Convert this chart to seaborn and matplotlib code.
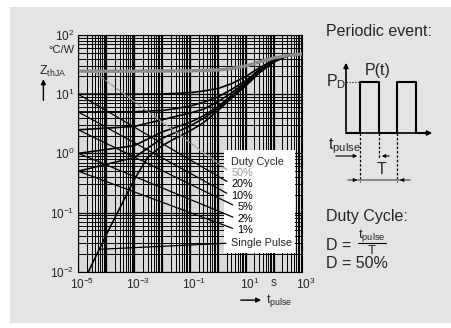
import numpy as np
import pandas as pd
import matplotlib
matplotlib.use('Agg')
import matplotlib.pyplot as plt
import matplotlib.transforms as mtransforms
import seaborn as sns
from matplotlib.patches import Rectangle
from matplotlib.ticker import LogLocator, FuncFormatter

sns.set_style("white")
plt.rcParams['font.family'] = ['Liberation Sans', 'DejaVu Sans']
plt.rcParams['mathtext.default'] = 'regular'

# Thermal impedance curves (t in s, Z in degC/W)
t_cycle = [1e-5, 1e-3, 1e-2, 3e-2, 1e-1, 3e-1, 1, 3, 10, 30, 100, 300, 1000]
z_20 = [10, 10, 10.1, 10.3, 10.6, 11.3, 12.5, 15, 20, 28, 38, 45, 48]
z_10 = [5, 5.05, 5.3, 5.7, 6.3, 7.3, 9, 12, 17, 26, 37, 45, 48]
z_5 = [2.5, 2.85, 3.7, 4.2, 4.8, 5.6, 7.5, 10.5, 16, 25, 37, 45, 48]
z_2 = [1, 1.35, 2.3, 2.75, 3.35, 4.3, 6.2, 9.5, 15, 24, 36, 45, 48]
z_1 = [0.5, 0.85, 1.8, 2.25, 2.9, 3.9, 5.8, 9, 14.5, 23.5, 36, 45, 48]

t_50 = [1e-5, 1e-3, 1e-1, 1, 3, 10, 30, 100, 300, 1000]
z_50 = [24.5, 24.5, 24.8, 25.7, 27, 30, 35, 41, 45, 48]

t_single = [2.3e-5, 1e-4, 1e-3, 3e-3, 1e-2, 3e-2, 1e-1, 3e-1, 1, 3, 10, 30, 100, 300, 1000]
z_single = [0.01, 0.042, 0.36, 0.85, 1.35, 1.8, 2.4, 3.3, 5.3, 8.5, 14, 23, 35, 44, 48]

# legend labels and where their leader lines start on the curves
labels = ['50%', '20%', '10%', '5%', '2%', '1%']
leader_t = [3.4e-5, 1e-5, 1e-5, 1e-5, 1e-5, 1e-5]
leader_z = [24.5, 10, 5, 2.5, 1, 0.5]
label_y = [0.417, 0.370, 0.321, 0.273, 0.223, 0.176]

xtick_vals = [1e-5, 1e-3, 1e-1, 1e1, 1e2, 1e3]
xtick_text = ['10$^{-5}$', '10$^{-3}$', '10$^{-1}$', '10$^{1}$', 's', '10$^{3}$']

fig = plt.figure(figsize=(4.52, 3.28), dpi=100)
fig.patch.set_facecolor('white')

# background panel + pulse sketch (pixel coordinates)
bg = fig.add_axes([0, 0, 1, 1], zorder=0)
bg.set_xlim(0, 452)
bg.set_ylim(328, 0)
bg.axis('off')
bg.add_patch(Rectangle((10, 7), 442, 316, color='#e4e4e6', lw=0))

fs_r = 11.5
bg.text(326, 32, 'Periodic event:', fontsize=fs_r, va='center')
bg.text(365, 70, 'P(t)', fontsize=fs_r, va='center')
bg.text(326, 82, 'P$_{D}$', fontsize=fs_r, va='center')
bg.annotate('', xy=(346, 60), xytext=(346, 134),
            arrowprops=dict(arrowstyle='-|>', color='black', lw=1.2, mutation_scale=7))
bg.annotate('', xy=(435, 133), xytext=(345, 133),
            arrowprops=dict(arrowstyle='-|>', color='black', lw=1.2, mutation_scale=7))
pulse_x = [346, 360, 360, 379, 379, 397, 397, 416, 416, 428]
pulse_y = [133, 133, 82, 82, 133, 133, 82, 82, 133, 133]
bg.plot(pulse_x, pulse_y, color='black', lw=1.5)
bg.plot([346, 360], [82, 82], color='black', lw=0.8, ls=':')
for xv, y2 in [(360, 182), (379, 158), (397, 182)]:
    bg.plot([xv, xv], [133, y2], color='black', lw=0.9, ls=(0, (2, 1.5)))
bg.text(328, 146, 't$_{pulse}$', fontsize=fs_r, va='center')
bg.annotate('', xy=(360, 156), xytext=(333, 156),
            arrowprops=dict(arrowstyle='-|>', color='black', lw=0.8, mutation_scale=5))
bg.annotate('', xy=(379, 156), xytext=(392, 156),
            arrowprops=dict(arrowstyle='-|>', color='black', lw=0.8, mutation_scale=5))
bg.text(382, 169, 'T', fontsize=fs_r, va='center', ha='center')
bg.plot([348, 410], [180, 180], color='#777777', lw=1.2)
bg.annotate('', xy=(360, 180), xytext=(352, 180),
            arrowprops=dict(arrowstyle='-|>', color='black', lw=0.8, mutation_scale=5))
bg.annotate('', xy=(397, 180), xytext=(405, 180),
            arrowprops=dict(arrowstyle='-|>', color='black', lw=0.8, mutation_scale=5))
bg.text(326, 217, 'Duty Cycle:', fontsize=fs_r, va='center')
bg.text(326, 245, 'D =', fontsize=fs_r, va='center')
bg.text(372, 236, 't$_{pulse}$', fontsize=9.5, va='center', ha='center')
bg.plot([358, 386], [243, 243], color='black', lw=0.8)
bg.text(372, 251, 'T', fontsize=9.5, va='center', ha='center')
bg.text(326, 264, 'D = 50%', fontsize=fs_r, va='center')

# main chart
ax = fig.add_axes([0.1732, 0.1716, 0.4949, 0.7217], zorder=1)
ax.set_facecolor('#dadadc')
ax.set_xscale('log')
ax.set_yscale('log')
ax.set_xlim(1e-5, 1e3)
ax.set_ylim(1e-2, 1e2)

for axis in [ax.xaxis, ax.yaxis]:
    axis.set_major_locator(LogLocator(base=10, numticks=20))
    axis.set_minor_locator(LogLocator(base=10, subs=np.arange(2, 10), numticks=200))
ax.grid(which='major', color='black', lw=0.9)
ax.grid(which='minor', color='black', lw=0.7)
ax.set_axisbelow(True)

xlab = dict(zip([round(np.log10(v)) for v in xtick_vals], xtick_text))
ax.xaxis.set_major_formatter(FuncFormatter(lambda v, p: xlab.get(round(np.log10(v)), '')))
ax.yaxis.set_major_formatter(FuncFormatter(lambda v, p: '10$^{%d}$' % round(np.log10(v))))
ax.yaxis.set_minor_formatter(FuncFormatter(lambda v, p: ''))
ax.xaxis.set_minor_formatter(FuncFormatter(lambda v, p: ''))
ax.tick_params(which='both', length=0, labelsize=8.5)
ax.tick_params(axis='x', pad=4)
ax.tick_params(axis='y', pad=3)
for sp in ax.spines.values():
    sp.set_color('black')
    sp.set_linewidth(0.8)

# shift decade labels so the "10" sits on the tick, exponent sticking out
fig.canvas.draw()
shift = mtransforms.ScaledTranslation(3.5 / 100, 0, fig.dpi_scale_trans)
for lbl in ax.get_xticklabels():
    if lbl.get_text() not in ('', 's'):
        lbl.set_transform(lbl.get_transform() + shift)

for z in [z_20, z_10, z_5, z_2, z_1]:
    sns.lineplot(x=t_cycle, y=z, ax=ax, color='black', lw=1.2, estimator=None, sort=False, zorder=2)
sns.lineplot(x=t_single, y=z_single, ax=ax, color='black', lw=1.2, estimator=None, sort=False, zorder=2)
sns.lineplot(x=t_50, y=z_50, ax=ax, color='#8c8c8c', lw=2.4, estimator=None, sort=False, zorder=2)

# label box
ax.add_patch(Rectangle((0.652, 0.079), 0.317, 0.435, transform=ax.transAxes,
                       facecolor='white', edgecolor='none', zorder=3))
fs_l = 7.8
ax.text(0.681, 0.465, 'Duty Cycle', transform=ax.transAxes, fontsize=fs_l, va='center', zorder=4)
for lab, lt, lz, ly in zip(labels, leader_t, leader_z, label_y):
    col = '#999999' if lab == '50%' else 'black'
    ls = '--' if lab == '50%' else '-'
    ax.annotate(lab, xy=(lt, lz), xycoords='data', xytext=(0.781, ly), textcoords='axes fraction',
                ha='right', va='center', fontsize=fs_l, color=col, zorder=4,
                arrowprops=dict(arrowstyle='-', color=col, lw=0.9, ls=ls,
                                shrinkA=1, shrinkB=0, relpos=(0, 0.5)))
ax.annotate('Single Pulse', xy=(6.5e-5, 0.024), xycoords='data', xytext=(0.681, 0.121),
            textcoords='axes fraction', ha='left', va='center', fontsize=fs_l, zorder=4,
            arrowprops=dict(arrowstyle='-', color='black', lw=0.9, shrinkA=1, shrinkB=0,
                            relpos=(0, 0.5)))

# axis titles
ax.text(-0.019, 0.938, '°C/W', transform=ax.transAxes, fontsize=8, ha='right', va='center')
ax.text(-0.175, 0.845, 'Z$_{thJA}$', transform=ax.transAxes, fontsize=9, ha='left', va='center')
ax.annotate('', xy=(-0.156, 0.825), xytext=(-0.156, 0.712), xycoords='axes fraction',
            arrowprops=dict(arrowstyle='-|>', color='black', lw=1.0, mutation_scale=7))
ax.annotate('', xy=(0.83, -0.12), xytext=(0.714, -0.12), xycoords='axes fraction',
            arrowprops=dict(arrowstyle='-|>', color='black', lw=1.0, mutation_scale=7))
ax.text(0.84, -0.12, 't$_{pulse}$', transform=ax.transAxes, fontsize=9, ha='left', va='center')

fig.savefig('out.png', dpi=100)
